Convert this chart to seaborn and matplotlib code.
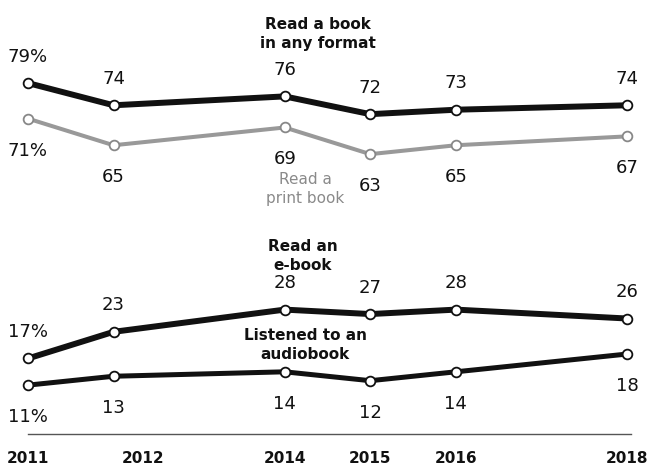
import matplotlib
matplotlib.use('Agg')
import matplotlib.pyplot as plt
import matplotlib.transforms as mtransforms
import seaborn as sns

# survey years and shares of U.S. adults (%)
years = [2011, 2012, 2014, 2015, 2016, 2018]
year_labels = ['2011', '2012', '2014', '2015', '2016', '2018']
any_format = [79, 74, 76, 72, 73, 74]
print_book = [71, 65, 69, 63, 65, 67]
ebook = [17, 23, 28, 27, 28, 26]
audiobook = [11, 13, 14, 12, 14, 18]

sns.set_style('white')
plt.rcParams['font.family'] = ['DejaVu Sans']

fig = plt.figure(figsize=(6.53, 4.68), dpi=100)
ax = fig.add_axes([0, 34 / 468, 1, 434 / 468])

series = [
    (any_format, '#111111', 4.3, '#111111', 'above'),
    (print_book, '#999999', 2.9, '#888888', 'below'),
    (ebook, '#111111', 4.3, '#111111', 'above'),
    (audiobook, '#111111', 3.6, '#111111', 'below'),
]

for vals, col, lw, edge, side in series:
    sns.lineplot(x=years, y=vals, ax=ax, color=col, linewidth=lw,
                 marker='o', markersize=7, markerfacecolor='white',
                 markeredgecolor=edge, markeredgewidth=1.3, clip_on=False)
    off = 19 if side == 'above' else -23
    for i, (x, v) in enumerate(zip(years, vals)):
        txt = f'{v}%' if i == 0 else str(v)
        ax.annotate(txt, (x, v), xytext=(0, off), textcoords='offset points',
                    ha='center', va='center', fontsize=13, color='#111111')

# series labels
ax.text(2014.39, 90.0, 'Read a book\nin any format', ha='center', va='center',
        fontsize=11, fontweight='bold', linespacing=1.35, color='#111111')
ax.text(2014.24, 55.1, 'Read a\nprint book', ha='center', va='center',
        fontsize=11, linespacing=1.35, color='#8a8a8a')
ax.text(2014.21, 40.0, 'Read an\ne-book', ha='center', va='center',
        fontsize=11, fontweight='bold', linespacing=1.35, color='#111111')
ax.text(2014.24, 20.0, 'Listened to an\naudiobook', ha='center', va='center',
        fontsize=11, fontweight='bold', linespacing=1.35, color='#111111')

ax.set_xlim(2010.673, 2018.304)
ax.set_ylim(0, 97.7)
ax.set_yticks([])
ax.set_xticks(years)
ax.set_xticklabels(year_labels, fontsize=11, fontweight='bold', color='#111111')
ax.tick_params(axis='x', length=0, pad=12)
for lab in ax.get_xticklabels():
    if lab.get_text() == '2012':
        lab.set_transform(lab.get_transform() +
                          mtransforms.ScaledTranslation(0.3, 0, fig.dpi_scale_trans))

for s in ['top', 'right', 'left']:
    ax.spines[s].set_visible(False)
ax.spines['bottom'].set_color('#555555')
ax.spines['bottom'].set_linewidth(1)
ax.spines['bottom'].set_bounds(2011, 2018.05)
ax.set_xlabel('')
ax.set_ylabel('')

fig.savefig('out.png', dpi=100)
